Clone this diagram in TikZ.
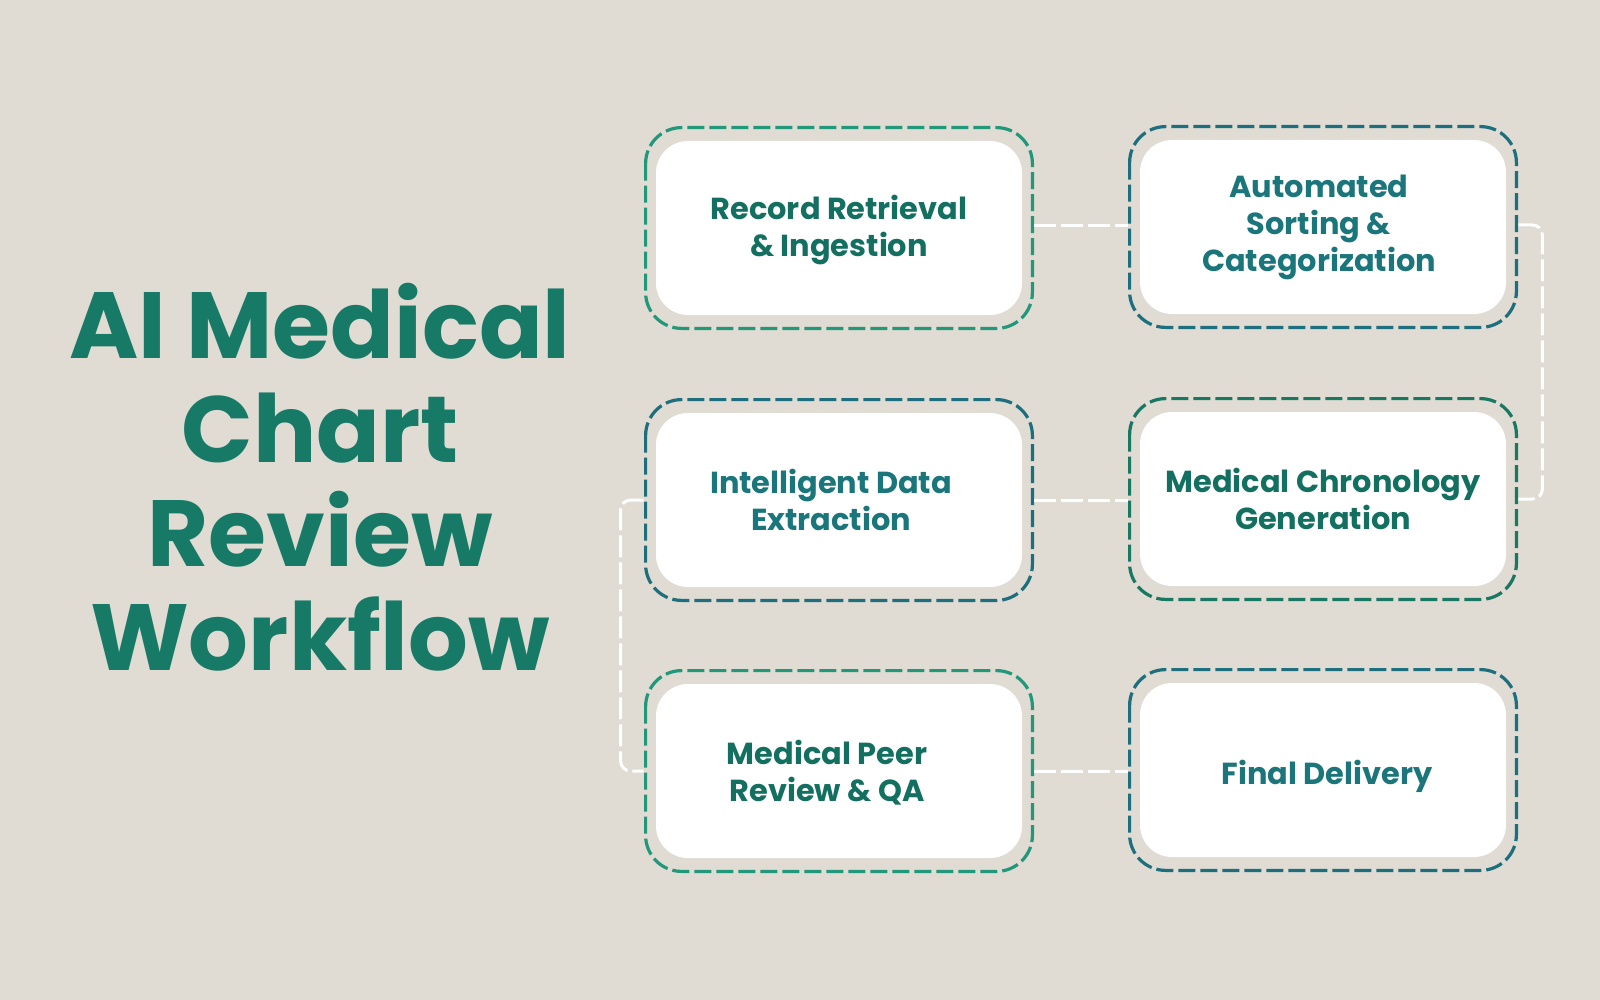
\documentclass[tikz,border=0pt]{standalone}
\usepackage{fontspec}
\setmainfont{Poppins}
\usetikzlibrary{calc}
\definecolor{bg}{HTML}{E0DBD3}
\definecolor{titlec}{HTML}{167A66}
\definecolor{txtgreen}{HTML}{137060}
\definecolor{txtteal}{HTML}{1B767C}
\definecolor{frgreen}{HTML}{22987B}
\definecolor{frteal}{HTML}{1E6F7D}
\definecolor{frdark}{HTML}{197862}
\begin{document}
\begin{tikzpicture}[x=0.5pt,y=-0.5pt,
  inner/.style={fill=white, rounded corners=16pt, minimum width=183pt, minimum height=87pt,
    inner sep=0pt},
  boxtext/.style={inner sep=0pt, align=center, font=\bfseries\fontsize{15.2}{18.5}\selectfont},
  frame/.style={line width=1.6pt, dash pattern=on 8.5pt off 2.5pt, rounded corners=18pt},
  link/.style={draw=white, line width=1.5pt, dash pattern=on 11pt off 2.5pt, rounded corners=5pt},
  titlefont/.style={font=\bfseries\fontsize{47}{52}\selectfont, text=titlec, align=center}]
\fill[bg] (0,0) rectangle (1600,1000);
\useasboundingbox (0,0) rectangle (1600,1000);

\node[titlefont] (title) at (320,477) {AI Medical\\Chart\\Review\\Workflow};

\node[inner] (b1) at (839,228) {};
\node[inner] (b2) at (1323,227) {};
\node[inner] (b3) at (839,500) {};
\node[inner] (b4) at (1323,499) {};
\node[inner] (b5) at (839,771) {};
\node[inner] (b6) at (1323,770) {};

\node[boxtext, text=txtgreen] (t1) at ([yshift=-1pt]b1.center) {Record Retrieval\\\& Ingestion};
\node[boxtext, text=txtteal]  (t2) at ([xshift=-2pt]b2.center) {Automated\\Sorting \&\\Categorization};
\node[boxtext, text=txtteal]  (t3) at ([xshift=-4pt]b3.center) {Intelligent Data\\Extraction};
\node[boxtext, text=txtgreen] (t4) at (b4.center) {Medical Chronology\\Generation};
\node[boxtext, text=txtgreen] (t5) at ([xshift=-6pt,yshift=-1pt]b5.center) {Medical Peer\\Review \& QA};
\node[boxtext, text=txtteal]  (t6) at ([xshift=2pt,yshift=-3pt]b6.center) {Final Delivery};

\foreach \b/\c in {b1/frgreen, b2/frteal, b3/frteal, b4/frdark, b5/frgreen, b6/frteal}{
  \draw[frame, draw=\c] ([shift={(-5pt,6.5pt)}]\b.north west) rectangle ([shift={(5pt,-6.5pt)}]\b.south east);
}

\draw[link] ([xshift=6pt,yshift=1pt]b1.east) -- ([xshift=-6pt,yshift=1pt]b1.east -| b2.west);
\draw[link] ([xshift=6pt]b3.east) -- ([xshift=-6pt]b3.east -| b4.west);
\draw[link] ([xshift=6pt]b5.east) -- ([xshift=-6pt]b5.east -| b6.west);
\draw[link] ([xshift=6pt,yshift=1pt]b2.east) -- ++(12pt,0) |- ([xshift=6pt]b4.east);
\draw[link] ([xshift=-6pt]b3.west) -- ++(-11.5pt,0) |- ([xshift=-6pt]b5.west);
\end{tikzpicture}
\end{document}
